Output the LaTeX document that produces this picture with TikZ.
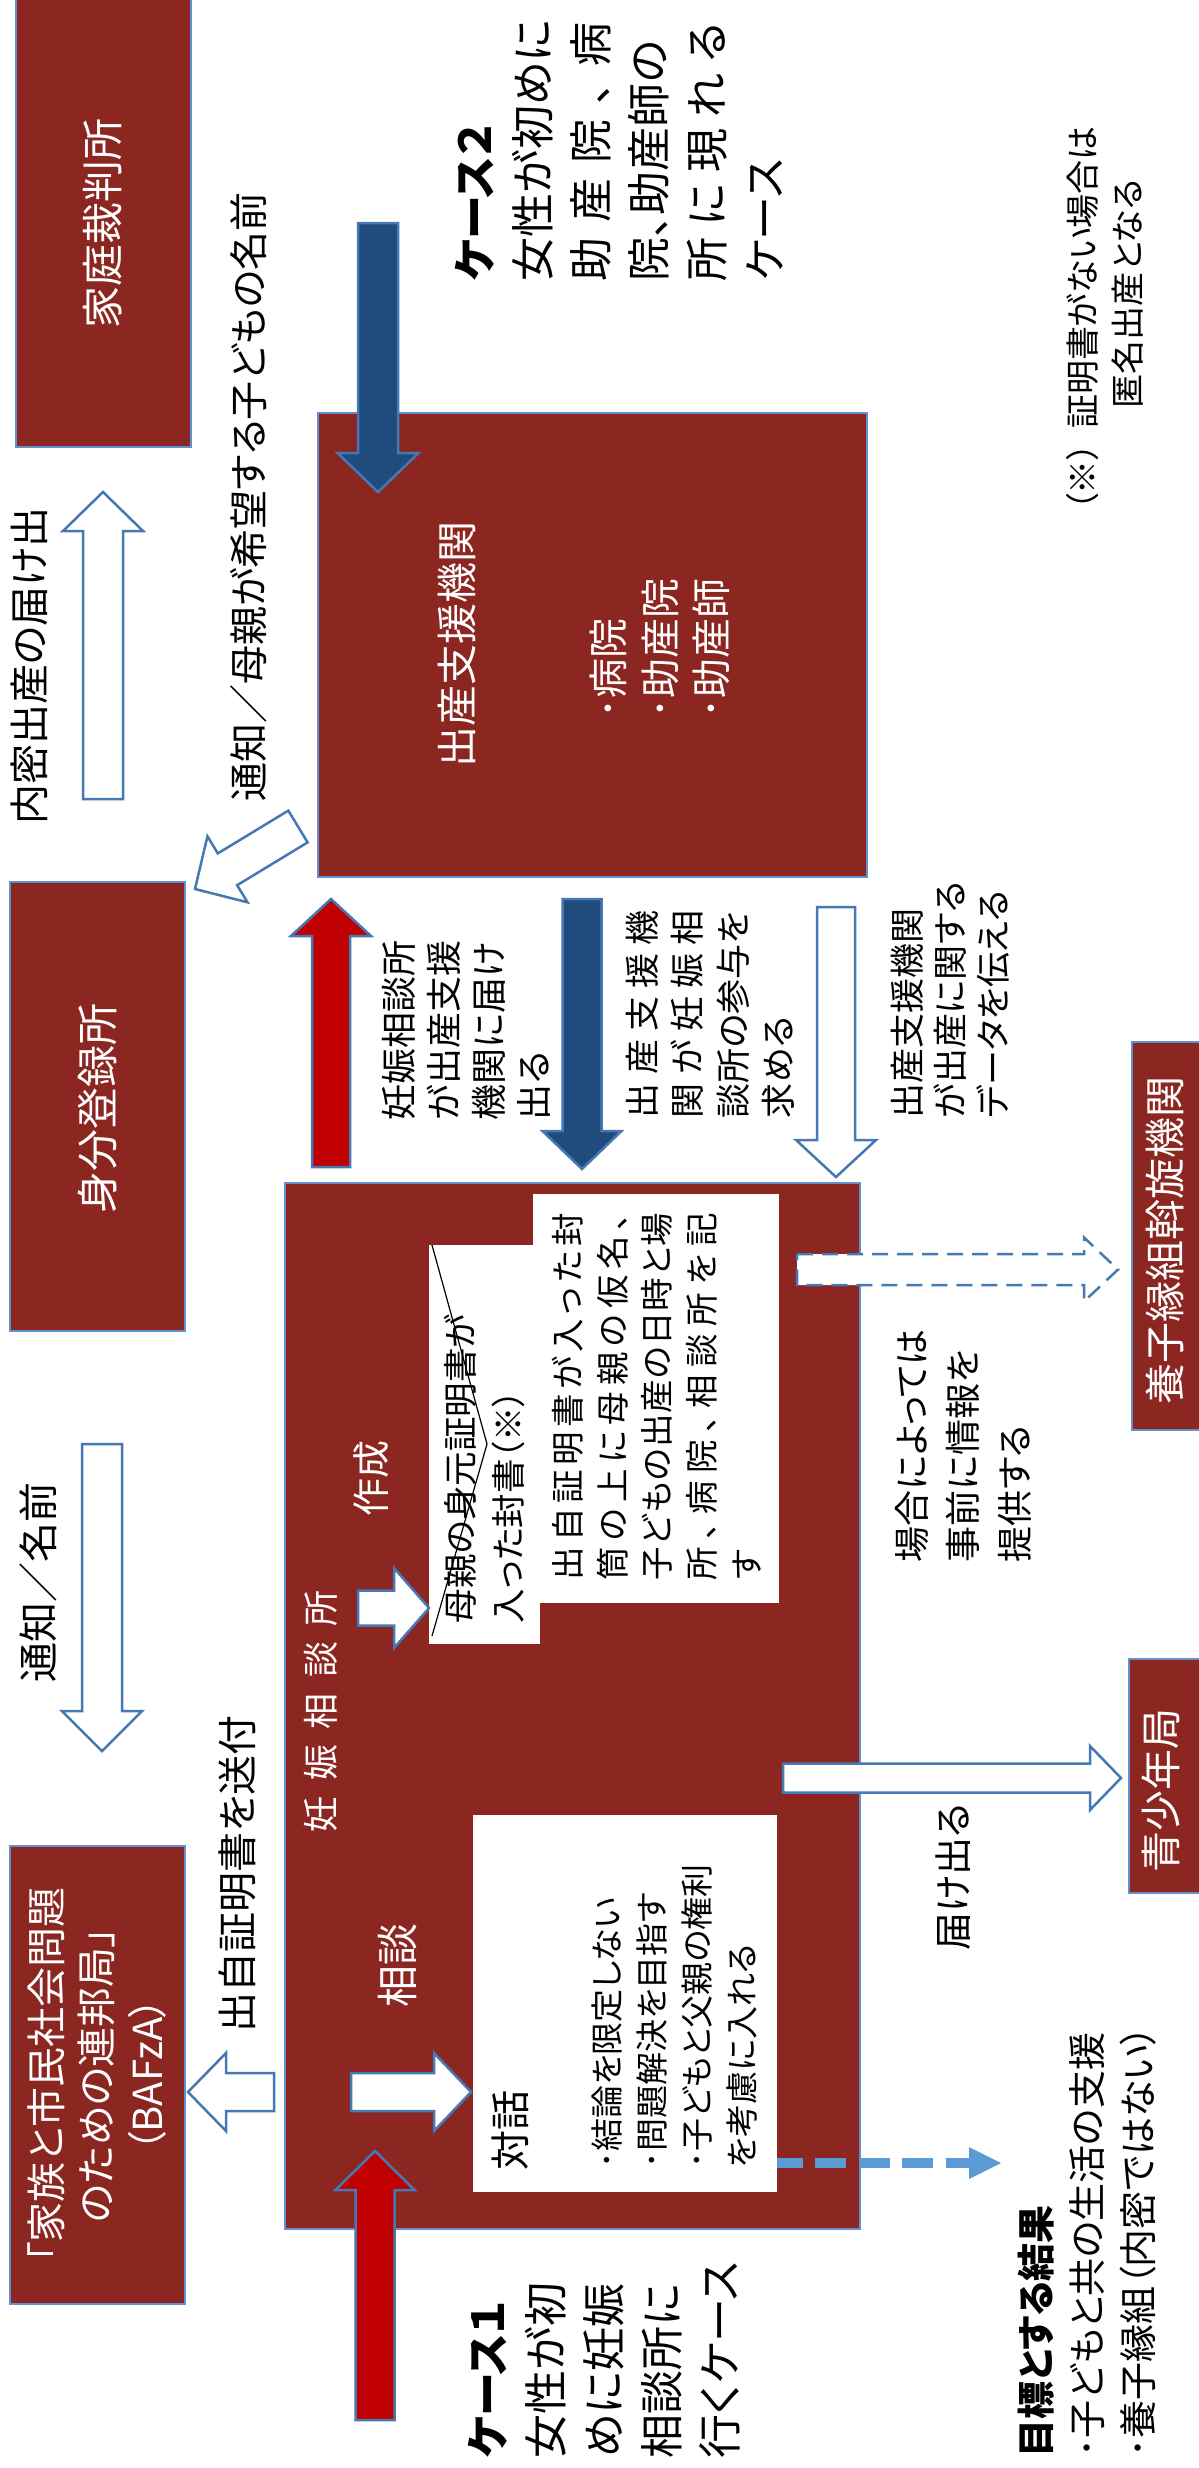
\documentclass[tikz,border=0pt]{standalone}
\usepackage{fontspec}
\setmainfont{Noto Sans CJK JP}[RawFeature=+palt]
\usetikzlibrary{calc,fit}
\definecolor{boxred}{RGB}{139,38,33}
\definecolor{boxedge}{RGB}{98,145,205}
\definecolor{arredge}{RGB}{70,120,180}
\definecolor{redarr}{RGB}{192,0,0}
\definecolor{bluearr}{RGB}{31,75,125}
\definecolor{dashblue}{RGB}{91,155,213}
\newcommand\fz[2]{\fontsize{#1pt}{#2pt}\selectfont}
\ExplSyntaxOn
\bool_new:N \l__sp_first_bool
\NewDocumentCommand\sprd{mm}{\makebox[#1][s]{\bool_set_true:N \l__sp_first_bool \tl_map_inline:nn {#2}{\bool_if:NF \l__sp_first_bool {\hfil}\bool_set_false:N \l__sp_first_bool ##1}}}
\ExplSyntaxOff
% block arrow: [style]{from}{to}{half shaft}{half head}{head length}
\newcommand\blockarrow[6][]{%
  \draw[#1] ($(#2)!#4!90:(#3)$) -- ($(#3)!#6!(#2)!#4!-90:(#2)$) -- ($(#3)!#6!(#2)!#5!-90:(#2)$) -- (#3) -- ($(#3)!#6!(#2)!#5!90:(#2)$) -- ($(#3)!#6!(#2)!#4!90:(#2)$) -- ($(#2)!#4!-90:(#3)$) -- cycle;}
\begin{document}
\begin{tikzpicture}[x=1pt,y=-1pt,
  box/.style={fill=boxred, draw=boxedge, line width=2pt, inner sep=0pt, outer sep=0pt},
  wbox/.style={fill=white, inner sep=0pt, outer sep=0pt},
  hollow/.style={fill=white, draw=arredge, line width=2.5pt, line join=miter},
  dhollow/.style={fill=white, draw=arredge, line width=2.5pt, dash pattern=on 16pt off 9pt},
  redar/.style={fill=redarr, draw=arredge, line width=2.5pt},
  bluear/.style={fill=bluearr, draw=arredge, line width=2.5pt},
  txt/.style={rotate=90, inner sep=0pt, outer sep=0pt, align=left, text=black},
  ttl/.style={rotate=90, inner sep=0pt, outer sep=0pt, align=center, text=white}]
\useasboundingbox (0,0) rectangle (1199,2468);
\fill[white] (0,0) rectangle (1199,2468);

% ---------- boxes ----------
\node[box, fit={(16,-5) (191,447)}] (kasai) {};
\node[box, fit={(318,413) (867,877)}] (shussan) {};
\node[box, fit={(10,882) (185,1331)}] (mibun) {};
\node[box, fit={(10,1846) (185,2304)}] (bafza) {};
\node[box, fit={(1132,1042) (1215,1430)}] (yoshi) {};
\node[box, fit={(1129,1659) (1215,1893)}] (seishonen) {};
\node[box, fit={(285,1183) (860,2229)}] (ninshin) {};

% blue dashed line arrow (goal)
\coordinate (dl1) at (777,2163);
\coordinate (dl2) at (969,2163);
\coordinate (dlt) at (1001,2163);
\coordinate (dlu) at (969,2147);
\coordinate (dld) at (969,2179);
\draw[dashblue, line width=10pt, dash pattern=on 31pt off 12.5pt, dash phase=5.4pt] (dl1) -- (dl2);
\fill[dashblue] (dlu) -- (dlt) -- (dld) -- cycle;

% white inner boxes
\node[wbox, fit={(429,1245) (540,1644)}] (envA) {};
\node[wbox, fit={(533,1194) (779,1603)}] (envB) {};
\node[wbox, fit={(473,1815) (777,2192)}] (taiwa) {};

% envelope flap lines
\coordinate (fl1) at (432,1245);
\coordinate (flm) at (487,1444);
\coordinate (fl2) at (432,1636);
\draw[black, line width=1.2pt] (fl1) -- (flm) -- (fl2);

% ---------- arrows ----------
\coordinate (a1s) at (103,799);   \coordinate (a1e) at (103,492);
\coordinate (a2s) at (378,223);   \coordinate (a2e) at (378,492);
\coordinate (a3s) at (298,826.5); \coordinate (a3e) at (195,889);
\coordinate (a4s) at (331,1167);  \coordinate (a4e) at (331,899);
\coordinate (a5s) at (582,899);   \coordinate (a5e) at (582,1169);
\coordinate (a6s) at (836,907);   \coordinate (a6e) at (836,1177);
\coordinate (a7s) at (797,1269.5);\coordinate (a7e) at (1118,1269.5);
\coordinate (a8s) at (358,1608);  \coordinate (a8e) at (429,1608);
\coordinate (a9s) at (102,1444);  \coordinate (a9e) at (102,1751);
\coordinate (a10s) at (274,2092); \coordinate (a10e) at (188,2092);
\coordinate (a11s) at (351,2092); \coordinate (a11e) at (471,2092);
\coordinate (a12s) at (375,2420); \coordinate (a12e) at (375,2151);
\coordinate (a13s) at (783,1778); \coordinate (a13e) at (1121,1778);

\blockarrow[hollow]{a1s}{a1e}{20pt}{40pt}{39pt}
\blockarrow[bluear]{a2s}{a2e}{20pt}{40.5pt}{39pt}
\blockarrow[hollow]{a3s}{a3e}{18.6pt}{38.6pt}{38pt}
\blockarrow[redar]{a4s}{a4e}{19pt}{40pt}{37pt}
\blockarrow[bluear]{a5s}{a5e}{19.5pt}{39.5pt}{38pt}
\blockarrow[hollow]{a6s}{a6e}{19pt}{40pt}{37pt}
\blockarrow[dhollow]{a7s}{a7e}{15.5pt}{32pt}{34pt}
\blockarrow[hollow]{a8s}{a8e}{17.5pt}{40pt}{35pt}
\blockarrow[hollow]{a9s}{a9e}{20pt}{40pt}{40pt}
\blockarrow[hollow]{a10s}{a10e}{19pt}{39pt}{38pt}
\blockarrow[hollow]{a11s}{a11e}{19pt}{39pt}{37pt}
\blockarrow[redar]{a12s}{a12e}{19.5pt}{39.5pt}{39pt}
\blockarrow[hollow]{a13s}{a13e}{14.5pt}{32pt}{31pt}

% ---------- box titles ----------
\node[ttl, font=\fz{42}{48}] (t-kasai) at (103,223) {家庭裁判所};
\node[ttl, font=\fz{41}{48}] (t-shussan) at (457,644) {出産支援機関};
\node[txt, text=white, anchor=north west, font=\fz{40}{51.5}] (t-shussan2) at (590,718) {･病院\\･助産院\\･助産師};
\node[ttl, font=\fz{42}{48}] (t-mibun) at (98,1108) {身分登録所};
\node[ttl, font=\fz{40}{50.5}] (t-bafza) at (96.5,2075) {「家族と市民社会問題\\のための連邦局」\\（BAFzA）};
\node[ttl, font=\fz{41}{48}] (t-yoshi) at (1165,1240) {養子縁組斡旋機関};
\node[ttl, font=\fz{41}{48}] (t-seishonen) at (1161,1790) {青少年局};
\node[ttl, font=\fz{36}{44}] (t-ninshin) at (321,1711) {\sprd{242pt}{妊娠相談所}};
\node[ttl, font=\fz{38}{44}] (t-sakusei) at (371,1478) {作成};
\node[ttl, font=\fz{42}{48}] (t-sodan) at (398,1965) {相談};

% ---------- inner white box texts ----------
\node[txt, anchor=north west, font=\fz{34.5}{48}] (t-envA) at (444.5,1623) {母親の身元証明書が\\入った封書（※）};
\node[txt, anchor=north west, font=\fz{33.5}{44.7}] (t-envB) at (552,1580) {\sprd{367pt}{出自証明書が入った封}\\\sprd{367pt}{筒の上に母親の仮名、}\\\sprd{367pt}{子どもの出産の日時と場}\\\sprd{367pt}{所、病院、相談所を記}\\す};
\node[txt, font=\fz{40}{44}] (t-taiwa) at (510,2130) {対話};
\node[txt, anchor=north west, font=\fz{33}{45}] (t-taiwa2) at (592,2168) {･結論を限定しない\\･問題解決を目指す\\･子どもと父親の権利\\を考慮に入れる};

% ---------- labels ----------
\node[txt, font=\fz{40}{48}] (l-naimitsu) at (29,666) {内密出産の届け出};
\node[txt, font=\fz{39}{48}] (l-tsuchi1) at (249,497) {通知／母親が希望する子どもの名前};
\node[txt, anchor=north west, font=\fz{44}{58}] (l-case2) at (455,281) {\textbf{ケース２}\\女性が初めに\\\sprd{258pt}{助産院、病}\\院、助産師の\\\sprd{258pt}{所に現れる}\\ケース};
\node[txt, anchor=north west, font=\fz{34}{46}] (l-note1) at (1066,511) {（※）\hspace{14pt}証明書がない場合は};
\node[txt, anchor=north west, font=\fz{34}{46}] (l-note2) at (1112,408) {匿名出産となる};
\node[txt, anchor=north west, font=\fz{36}{45}] (l-todoke1) at (382,1120) {妊娠相談所\\が出産支援\\機関に届け\\出る};
\node[txt, anchor=north west, font=\fz{35}{45.3}] (l-sanyo) at (626,1118) {\sprd{208pt}{出産支援機}\\\sprd{208pt}{関が妊娠相}\\談所の参与を\\求める};
\node[txt, anchor=north west, font=\fz{35}{43}] (l-data) at (891,1118) {出産支援機関\\が出産に関する\\データを伝える};
\node[txt, anchor=north west, font=\fz{36}{51.5}] (l-jizen) at (895,1562) {場合によっては\\事前に情報を\\提供する};
\node[txt, font=\fz{40}{48}] (l-tsuchi2) at (38,1582) {通知／名前};
\node[txt, font=\fz{40}{48}] (l-soufu) at (237,1874) {出自証明書を送付};
\node[txt, font=\fz{38}{48}] (l-todoke2) at (953,1877) {届け出る};
\node[txt, anchor=north west, font=\fz{44}{58}] (l-case1) at (468,2458) {\textbf{ケース１}\\女性が初\\めに妊娠\\相談所に\\行くケース};
\node[txt, anchor=north west, font=\fz{38}{51}] (l-goal) at (1018,2457) {\textbf{目標とする結果}\\･子どもと共の生活の支援\\･養子縁組（内密ではない）};
\end{tikzpicture}
\end{document}
